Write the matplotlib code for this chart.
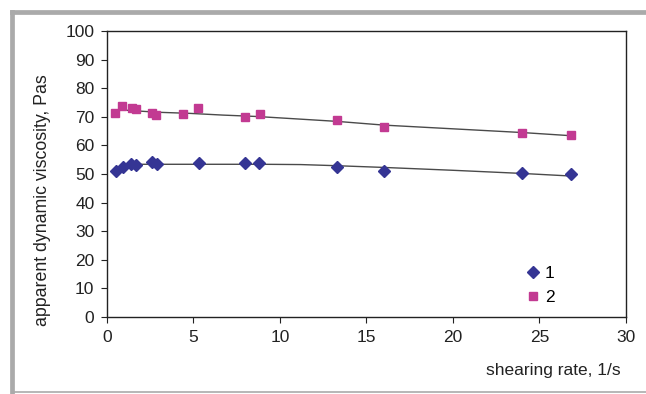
import matplotlib
matplotlib.use("Agg")
import matplotlib.pyplot as plt
from matplotlib.lines import Line2D

plt.rcParams["font.family"] = ["Liberation Sans", "DejaVu Sans"]

# measured points
rate1 = [0.5, 0.9, 1.4, 1.7, 2.6, 2.9, 5.3, 8.0, 8.8, 13.3, 16.0, 24.0, 26.8]
visc1 = [51.0, 52.4, 53.4, 53.2, 54.2, 53.6, 54.0, 54.0, 54.0, 52.6, 51.2, 50.2, 49.9]
rate2 = [0.45, 0.87, 1.45, 1.7, 2.6, 2.85, 4.4, 5.25, 8.0, 8.85, 13.3, 16.0, 24.0, 26.8]
visc2 = [71.4, 73.8, 73.0, 72.6, 71.4, 70.6, 71.0, 73.0, 69.8, 71.0, 69.0, 66.6, 64.5, 63.8]

# trend lines
trend_x1 = [0.5, 0.9, 1.5, 3, 6, 9, 11.2, 13.3, 16, 20, 24, 26.8]
trend_y1 = [51.7, 53.0, 53.4, 53.4, 53.4, 53.4, 53.3, 52.9, 52.3, 51.3, 50.2, 49.3]
trend_x2 = [0.46, 0.87, 2.9, 4.8, 6.7, 8.7, 10.6, 13.3, 16, 20, 24, 26.8]
trend_y2 = [71.9, 72.4, 71.6, 71.2, 70.6, 70.1, 69.4, 68.4, 67.1, 65.8, 64.5, 63.4]

blue = "#353594"
pink = "#c23a92"

fig = plt.figure(figsize=(6.46, 3.94), dpi=100)
ax = fig.add_axes([0.1656, 0.1954, 0.8034, 0.7259])

ax.plot(trend_x1, trend_y1, color="#4a4a4a", lw=1.0, zorder=2)
ax.plot(trend_x2, trend_y2, color="#4a4a4a", lw=1.0, zorder=2)
ax.plot(rate1, visc1, "D", color=blue, ms=5.8, ls="none", zorder=3, label="1")
ax.plot(rate2, visc2, "s", color=pink, ms=5.8, ls="none", zorder=3, label="2")

ax.set_xlim(0, 30)
ax.set_ylim(0, 100)
ax.set_xticks(range(0, 31, 5))
ax.set_yticks(range(0, 101, 10))
ax.tick_params(direction="out", length=4, width=0.8, labelsize=12.5, colors="#222222", pad=5)
for s in ax.spines.values():
    s.set_linewidth(1.0)
    s.set_color("#222222")

ax.set_ylabel("apparent dynamic viscosity, Pas", fontsize=12.8, color="#222222")
ax.yaxis.set_label_coords(-0.108, 0.41)
fig.text(0.961, 0.06, "shearing rate, 1/s", fontsize=12.5, color="#222222", ha="right", va="center")

ax.legend(loc="upper left", bbox_to_anchor=(0.79, 0.21), frameon=False, fontsize=12.5,
          handlelength=0.9, handletextpad=0.2, borderpad=0, labelspacing=0.55, numpoints=1)

# gray frame around the figure
fig.add_artist(Line2D([0.0186, 1.0], [0.9708, 0.9708], transform=fig.transFigure, color="#aaaaaa", lw=3.4))
fig.add_artist(Line2D([0.0186, 0.0186], [0.9708, 0.006], transform=fig.transFigure, color="#aaaaaa", lw=3.4))
fig.add_artist(Line2D([0.0186, 1.0], [0.006, 0.006], transform=fig.transFigure, color="#aaaaaa", lw=1.2))

fig.savefig("out.png", dpi=100)
